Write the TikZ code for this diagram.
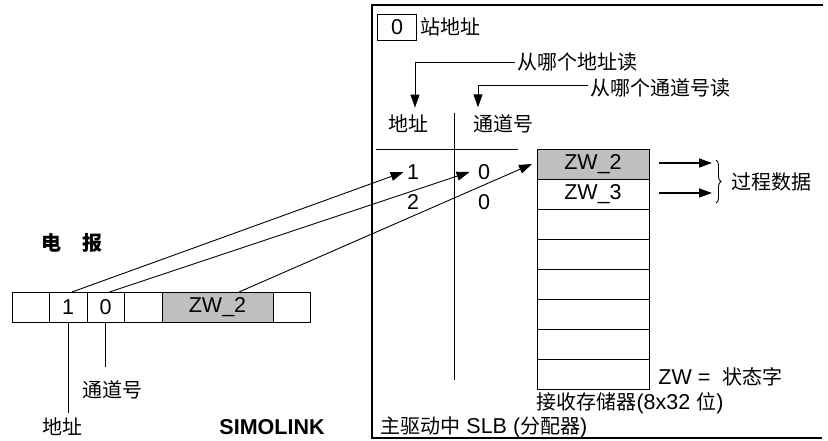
\documentclass[tikz,border=0pt]{standalone}
\usepackage{fontspec}
\setmainfont{Liberation Sans}
\newfontfamily\cjk{Noto Sans CJK SC}
\usetikzlibrary{positioning,arrows.meta,decorations.pathreplacing}

\begin{document}
\begin{tikzpicture}[x=1pt, y=-1pt, line width=0.9pt,
    every node/.style={font=\fontsize{21.5}{24}\selectfont, inner sep=2pt},
    zh/.style={font=\fontsize{20}{24}\selectfont\cjk},
    cell/.style={draw, line width=0.8pt, minimum height=30pt, outer sep=0pt, inner sep=0pt},
    memcell/.style={draw, line width=0.8pt, minimum width=112pt, minimum height=30pt, outer sep=0pt, inner sep=0pt},
    pfeil/.style={-{Triangle[length=13pt,width=9pt]}}]

\useasboundingbox (0,0) rectangle (828,441);

% SLB 框
\draw[line width=1.6pt] (823,5) -- (372,5) -- (372,438) -- (822,438);

% 电报
\node[zh, font=\fontsize{20}{24}\selectfont\cjk\bfseries] (tit) at (72,243) {电\hspace{21pt}报};
\node[cell, minimum width=37pt] (t1) at (30.5,307) {};
\node[cell, minimum width=38pt, right=0pt of t1] (t2) {1};
\node[cell, minimum width=37pt, right=0pt of t2] (t3) {0};
\node[cell, minimum width=38pt, right=0pt of t3] (t4) {};
\node[cell, minimum width=111pt, fill=gray!50, right=0pt of t4] (t5) {ZW\_2};
\node[cell, minimum width=37pt, right=0pt of t5] (t6) {};

\node[zh] (lba) at (62,427) {地址};
\node[zh] (lbc) at (112,390) {通道号};
\draw[shorten >=3pt] (t2.south) -- (t2.south |- lba.north);
\draw[shorten >=11pt] (t3.south) -- (t3.south |- lbc.north);
\node[font=\fontsize{21.5}{24}\selectfont\bfseries] (simo) at (272,427) {SIMOLINK};

% 站地址
\node[draw, minimum width=39pt, minimum height=26pt, inner sep=0pt] (sta) at (397,27) {0};
\node[zh, right=1pt of sta] (stl) {站地址};
\node[zh, anchor=west] (q1) at (515,62) {从哪个地址读};
\node[zh, anchor=west] (q2) at (588,88) {从哪个通道号读};

% 表
\node[zh] (h1) at (408,124) {地址};
\node[zh] (h2) at (503,124) {通道号};
\draw (454,113) -- (454,380);
\draw (376,149) -- (518,149);
\node (a1) at (413,172) {1};
\node (c1) at (484,172) {0};
\node (a2) at (413,202) {2};
\node (c2) at (484,202) {0};

\draw[pfeil, shorten >=5pt] (q1.west) -| ([xshift=7pt]h1.north);
\draw[pfeil, shorten >=5pt] ([yshift=3pt]q2.west) -| ([xshift=-25pt]h2.north);

% 接收存储器
\node[memcell, fill=gray!50] (m1) at (593,164) {ZW\_2};
\node[memcell, below=0pt of m1] (m2) {ZW\_3};
\foreach \i [remember=\i as \j (initially 2)] in {3,...,8}
    \node[memcell, below=0pt of m\j] (m\i) {};

\draw[pfeil] ([xshift=4pt]t2.north) -- ([xshift=-1pt]a1.west);
\draw[pfeil] ([xshift=4pt]t3.north) -- ([xshift=-6pt]c1.west);
\draw[pfeil] ([xshift=21.5pt]t5.north) -- ([xshift=-5pt]m1.west);

\draw[pfeil, line width=1.4pt] ([xshift=10pt,yshift=1pt]m1.east) -- ([xshift=63pt,yshift=1pt]m1.east);
\draw[pfeil, line width=1.4pt] ([xshift=10pt,yshift=1pt]m2.east) -- ([xshift=63pt,yshift=1pt]m2.east);
\draw[decorate, decoration={brace, amplitude=5pt}] (716,160) -- (716,203);
\node[zh, anchor=west] (pd) at (729,182) {过程数据};

\node[anchor=west] (zw) at (656,377) {ZW =\hspace{12pt}{\cjk\fontsize{20}{24}\selectfont 状态字}};
\node (mem) at (630,403) {{\cjk\fontsize{20}{24}\selectfont 接收存储器}(8x32 {\cjk\fontsize{20}{24}\selectfont 位})};
\node[anchor=west] (slb) at (378,427) {{\cjk\fontsize{20}{24}\selectfont 主驱动中} SLB ({\cjk\fontsize{20}{24}\selectfont 分配器})};
\end{tikzpicture}
\end{document}
